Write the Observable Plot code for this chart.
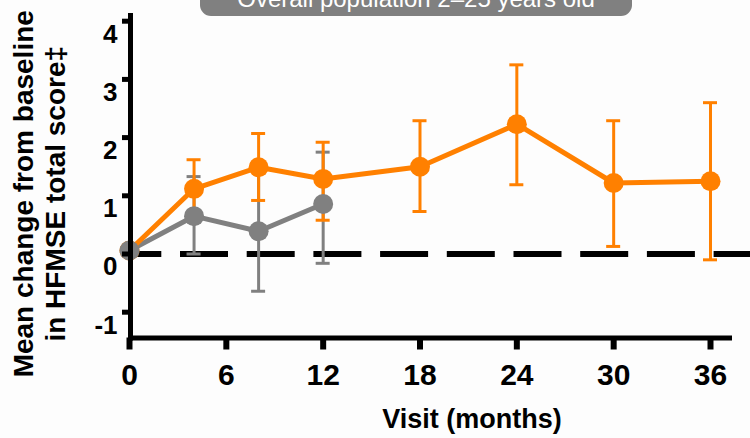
<!DOCTYPE html>
<html>
<head>
<meta charset="utf-8">
<script src="https://cdn.jsdelivr.net/npm/d3@7"></script>
<script src="https://cdn.jsdelivr.net/npm/@observablehq/plot@0.6"></script>
<style>
  html, body { margin: 0; padding: 0; background: #fdfdfd; }
  #wrap { position: relative; width: 750px; height: 438px; overflow: hidden; }
  #pill {
    position: absolute; left: 200px; top: -30px; width: 432px; height: 46px;
    background: #808080; border-radius: 11px; color: #fff;
    font: 24px "Liberation Sans", Arial, sans-serif; line-height: 24px;
    display: flex; align-items: flex-end; justify-content: center;
    box-sizing: border-box; padding-bottom: 5px;
  }
  #chart { position: absolute; left: 0; top: 0; }
</style>
</head>
<body>
<div id="wrap">
  <div id="chart"></div>
  <div id="pill">Overall population 2–25 years old</div>
</div>
<script>
// Visit schedule (months) and mean change from baseline with error bars
const orangeMonths = [0, 4, 8, 12, 18, 24, 30, 36];
const orangeMean   = [0.06, 1.12, 1.49, 1.29, 1.50, 2.23, 1.22, 1.25];
const orangeLower  = [null, 0.62, 0.92, 0.58, 0.73, 1.19, 0.13, -0.10];
const orangeUpper  = [null, 1.62, 2.07, 1.92, 2.29, 3.25, 2.29, 2.60];

const grayMonths = [0, 4, 8, 12];
const grayMean   = [0.06, 0.65, 0.39, 0.86];
const grayLower  = [null, 0.00, -0.64, -0.16];
const grayUpper  = [null, 1.33, 1.42, 1.75];

const xTicks = [0, 6, 12, 18, 24, 30, 36];
const yTicks = [-1, 0, 1, 2, 3, 4];

const yLabel = "Mean change from baseline\nin HFMSE total score‡";
const xLabel = "Visit (months)";

const ORANGE = "#ff8000";
const GRAY = "#808080";
const FONT = "'Liberation Sans', Arial, Helvetica, sans-serif";

const toRows = (months, mean, lower, upper) =>
  months.map((m, i) => ({month: m, mean: mean[i], lower: lower[i], upper: upper[i]}));

const orange = toRows(orangeMonths, orangeMean, orangeLower, orangeUpper);
const gray = toRows(grayMonths, grayMean, grayLower, grayUpper);
const orangeBars = orange.filter(d => d.lower != null);
const grayBars = gray.filter(d => d.lower != null);

// error bar: vertical whisker plus two caps
const errorBars = (rows, color) => [
  Plot.ruleX(rows, {x: "month", y1: "lower", y2: "upper", stroke: color, strokeWidth: 3}),
  Plot.ruleY(rows, {y: "upper", x1: "month", x2: "month", insetLeft: -7, insetRight: -7, stroke: color, strokeWidth: 3}),
  Plot.ruleY(rows, {y: "lower", x1: "month", x2: "month", insetLeft: -7, insetRight: -7, stroke: color, strokeWidth: 3})
];

const chart = Plot.plot({
  width: 750,
  height: 438,
  marginLeft: 130,
  marginRight: 21,
  marginTop: 15,
  marginBottom: 100.5,
  style: {background: "transparent", fontFamily: FONT, overflow: "visible"},
  x: {domain: [0, 36], range: [129, 710]},
  y: {domain: [-1, 4], range: [311.7, 20.7]},
  marks: [
    // dashed reference line at zero, running to the right edge
    Plot.ruleY([0], {x1: 0, x2: 38.5, stroke: "#000", strokeWidth: 6,
      strokeDasharray: "48,18.7", strokeDashoffset: 15.7}),
    ...errorBars(grayBars, GRAY),
    ...errorBars(orangeBars, ORANGE),
    Plot.line(gray, {x: "month", y: "mean", stroke: GRAY, strokeWidth: 5}),
    Plot.line(orange, {x: "month", y: "mean", stroke: ORANGE, strokeWidth: 5}),
    Plot.dot(orange, {x: "month", y: "mean", r: 10, fill: ORANGE}),
    Plot.dot(gray, {x: "month", y: "mean", r: 10, fill: GRAY}),
    // axes
    Plot.frame({anchor: "left", stroke: "#000", strokeWidth: 5}),
    Plot.frame({anchor: "bottom", stroke: "#000", strokeWidth: 5}),
    Plot.axisY({ticks: yTicks, tickFormat: () => "", tickSize: 8, strokeWidth: 5, label: null}),
    // y tick labels hang just below their tick marks
    Plot.text(yTicks, {y: d => d, text: d => String(d), frameAnchor: "left", dx: -13, dy: 3,
      textAnchor: "end", lineAnchor: "top", fontSize: 26, fontWeight: "bold", fill: "#000"}),
    Plot.axisX({ticks: xTicks, tickFormat: d => String(d), tickSize: 12, tickPadding: 14, strokeWidth: 6,
      fontSize: 30, fontWeight: "bold", fill: "#000", label: null}),
    Plot.text([yLabel], {frameAnchor: "left", rotate: -90, dx: -92, dy: 17,
      textAnchor: "middle", lineAnchor: "middle",
      fontSize: 28, fontWeight: "bold", fill: "#000", lineHeight: 1.14}),
    Plot.text([xLabel], {frameAnchor: "bottom", dx: 42, dy: 90,
      fontSize: 27, fontWeight: "bold", fill: "#000"})
  ]
});

document.getElementById("chart").appendChild(chart);
</script>
</body>
</html>
